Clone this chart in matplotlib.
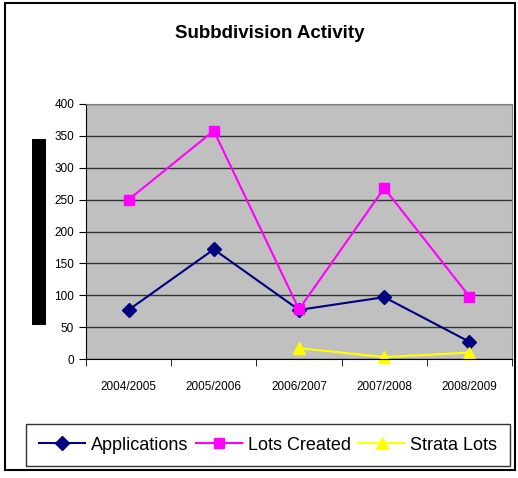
import matplotlib
matplotlib.use('Agg')
import matplotlib.pyplot as plt
from matplotlib.patches import Rectangle

plt.rcParams['font.family'] = ['Liberation Sans', 'DejaVu Sans']

# dados
anos = ['2004/2005', '2005/2006', '2006/2007', '2007/2008', '2008/2009']
applications = [77, 172, 77, 97, 27]
lots_created = [250, 358, 78, 268, 98]
strata_anos = ['2006/2007', '2007/2008', '2008/2009']
strata_lots = [17, 3, 10]

W, H = 518, 478
fig = plt.figure(figsize=(W / 100, H / 100), dpi=100)

# moldura externa e barra preta
fig.patches.append(Rectangle((5 / W, 1 - 470 / H), 510 / W, 467 / H, transform=fig.transFigure,
                             fill=False, edgecolor='black', linewidth=1.5))
fig.patches.append(Rectangle((32 / W, 1 - 325 / H), 14 / W, 186 / H, transform=fig.transFigure,
                             facecolor='black', edgecolor='none'))

ax = fig.add_axes([86 / W, 1 - 359 / H, 426 / W, 255 / H])
ax.set_facecolor('#C0C0C0')

x = list(range(len(anos)))
xs = [anos.index(a) for a in strata_anos]
ax.plot(x, applications, color='#000080', marker='D', markersize=7, linewidth=1.5, label='Applications')
ax.plot(x, lots_created, color='#FF00FF', marker='s', markersize=7.5, linewidth=1.5, label='Lots Created')
ax.plot(xs, strata_lots, color='#FFFF00', marker='^', markersize=9, linewidth=1.5, label='Strata Lots',
        clip_on=False)

ax.set_xlim(-0.5, len(anos) - 0.5)
ax.set_ylim(0, 400)
ax.set_yticks(range(0, 401, 50))
ax.set_xticks(x)
ax.set_xticklabels(anos)
ax.set_xticks([i - 0.5 for i in range(len(anos) + 1)], minor=True)
ax.tick_params(axis='x', which='major', length=0, pad=16, labelsize=8.5)
ax.tick_params(axis='x', which='minor', length=5, direction='out')
ax.tick_params(axis='y', length=5, labelsize=8.5)
ax.yaxis.grid(True, color='#333333', linewidth=1)
ax.set_axisbelow(True)
for s in ['top', 'right']:
    ax.spines[s].set_color('#808080')
for s in ['left', 'bottom']:
    ax.spines[s].set_color('black')

fig.text(270 / W, 1 - 33 / H, 'Subbdivision Activity', ha='center', va='center',
         fontsize=13.5, fontweight='bold')

leg = fig.legend(loc='center', bbox_to_anchor=(268 / W, 1 - 445 / H), ncol=3, fontsize=13,
                 frameon=True, fancybox=False, edgecolor='black', handlelength=2.6,
                 columnspacing=0.4, handletextpad=0.3, borderpad=0.7, borderaxespad=0)
leg.get_frame().set_linewidth(1)

fig.savefig('out.png', dpi=100)
